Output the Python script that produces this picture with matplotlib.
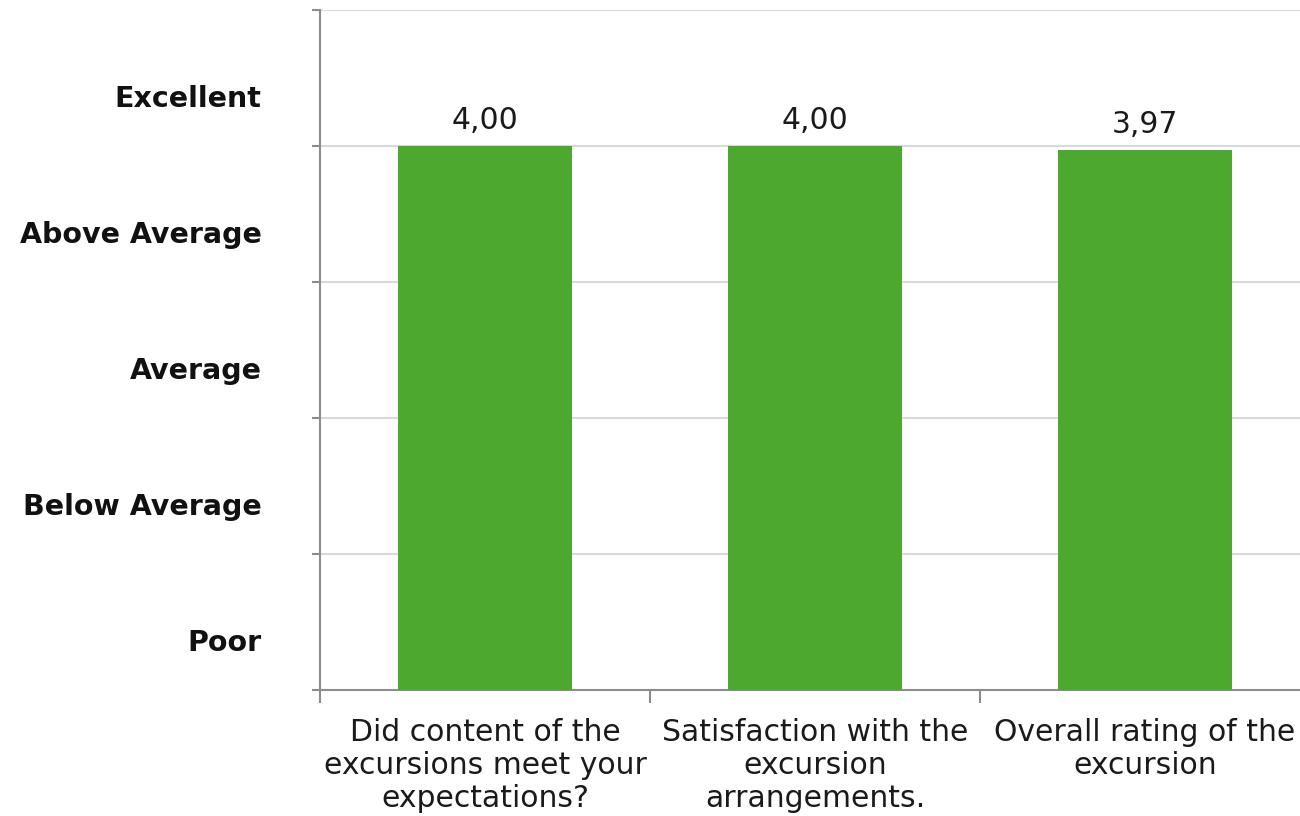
import matplotlib
matplotlib.use("Agg")
from matplotlib import pyplot as plt
import matplotlib.transforms as mtransforms

categories = ["Did content of the\nexcursions meet your\nexpectations?",
              "Satisfaction with the\nexcursion\narrangements.",
              "Overall rating of the\nexcursion"]
scores = [4.00, 4.00, 3.97]
rating_labels = ["Poor", "Below Average", "Average", "Above Average", "Excellent"]

plt.rcParams['font.family'] = ['DejaVu Sans']

fig = plt.figure(figsize=(13, 8.16), dpi=100)
ax = fig.add_axes([320/1300, 126/816, 990/1300, 680/816])

x = list(range(len(categories)))
bars = ax.bar(x, scores, width=0.53, color='#4ca82f', zorder=3)

for b, v in zip(bars, scores):
    ax.annotate(('%.2f' % v).replace('.', ','),
                (b.get_x() + b.get_width()/2, b.get_height()),
                xytext=(0, 11), textcoords='offset pixels',
                ha='center', va='bottom', fontsize=21.5, color='#1a1a1a')

ax.set_xlim(-0.5, len(categories) - 0.5)
ax.set_ylim(0, 5)

# rating labels sit between the gridlines
ax.set_yticks([i + 0.5 for i in range(len(rating_labels))])
ax.set_yticklabels(rating_labels, fontsize=20.5, fontweight='bold', color='#111111')
ax.tick_params(axis='y', which='major', length=0, pad=42)
shift = mtransforms.ScaledTranslation(0, -18/100, fig.dpi_scale_trans)
for lab in ax.get_yticklabels():
    lab.set_transform(lab.get_transform() + shift)
ax.set_yticks(range(0, 6), minor=True)
ax.tick_params(axis='y', which='minor', length=6, width=1.5, color='#8c8c8c')
ax.yaxis.grid(True, which='minor', color='#d9d9d9', linewidth=1.5, zorder=0)

ax.set_xticks(x)
ax.set_xticklabels(categories, fontsize=21.5, color='#1a1a1a', linespacing=1.17)
ax.tick_params(axis='x', which='major', length=0, pad=20)
ax.set_xticks([i - 0.5 for i in range(len(categories) + 1)], minor=True)
ax.tick_params(axis='x', which='minor', length=9, width=1.5, color='#8c8c8c')

for s in ['top', 'right']:
    ax.spines[s].set_visible(False)
for s in ['left', 'bottom']:
    ax.spines[s].set_color('#8c8c8c')
    ax.spines[s].set_linewidth(1.5)

fig.savefig('out.png', dpi=100)
